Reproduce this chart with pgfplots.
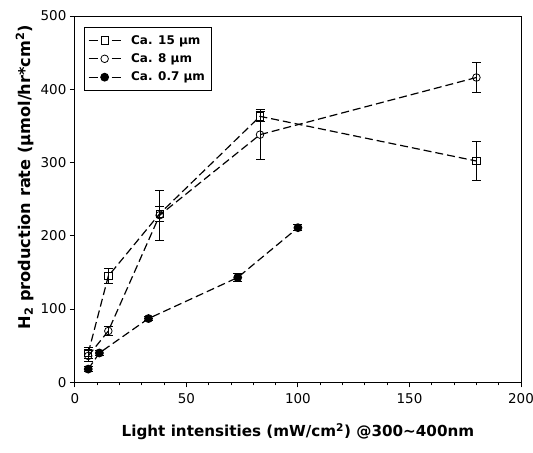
\documentclass[border=0pt]{standalone}
\usepackage{pgfplots}
\pgfplotsset{compat=1.18}
\usepackage{fontspec}
\setmainfont{DejaVu Sans}
\begin{document}
\begin{tikzpicture}
\begin{axis}[
  name=ax,
  scale only axis,
  width=447pt, height=367pt,
  xmin=0, xmax=200, ymin=0, ymax=500,
  xtick={0,50,100,150,200},
  ytick={0,100,200,300,400,500},
  minor x tick num=4,
  axis line style={line width=0.9pt},
  tick style={line width=0.9pt, black},
  tick align=outside,
  major tick length=5pt, minor tick length=3pt,
  xtick pos=bottom, ytick pos=left,
  ticklabel style={font=\fontsize{13.5}{15}\selectfont},
  xticklabel style={yshift=-3pt},
  /pgf/number format/assume math mode=true,
  xlabel={\textbf{Light intensities (mW/cm\textsuperscript{2}) @300\textasciitilde400nm}},
  ylabel={\textbf{H\textsubscript{2} production rate (µmol/hr*cm\textsuperscript{2})}},
  xlabel style={font=\fontsize{15.2}{17}\selectfont, yshift=-13pt},
  ylabel style={font=\fontsize{16.2}{18}\selectfont, at={(ticklabel cs:0.56)}, yshift=0pt},
  legend style={at={(0.02,0.97)}, anchor=north west, draw=black, line width=0.6pt,
    font=\bfseries\fontsize{12}{14}\selectfont, inner xsep=4pt, inner ysep=6pt,
    row sep=4pt, column sep=8pt},
  legend cell align=left,
  legend image code/.code={
    \draw[#1,solid] (0pt,0pt)--(9pt,0pt) (23pt,0pt)--(32pt,0pt);
    \draw[#1,solid] plot coordinates {(16pt,0pt)};
  },
  error bars/error bar style={solid, line width=0.9pt},
  error bars/error mark options={rotate=90, mark size=4.5pt, line width=0.9pt},
]
\coordinate (bl) at (rel axis cs:0,0);
\coordinate (tr) at (rel axis cs:1,1);
\addplot[black, line width=1.2pt, dash pattern=on 8pt off 4pt,
  mark=square, mark options={solid, fill=white, line width=0.8pt}, mark size=3.6pt,
  error bars/.cd, y dir=both, y explicit]
  coordinates {
  (6,40) +- (0,7)
  (15,145) +- (0,10)
  (38,230) +- (0,10)
  (83,363) +- (0,7)
  (180,302) +- (0,27)
  };
\addlegendentry{Ca. 15 µm}
\addplot[black, line width=1.2pt, dash pattern=on 8pt off 4pt,
  mark=o, mark options={solid, fill=white, line width=0.8pt}, mark size=3.8pt,
  error bars/.cd, y dir=both, y explicit]
  coordinates {
  (6,36) +- (0,8)
  (15,70) +- (0,6)
  (38,228) +- (0,34)
  (83,338) +- (0,34)
  (180,416) +- (0,21)
  };
\addlegendentry{Ca. 8 µm}
\addplot[black, line width=1.2pt, dash pattern=on 8pt off 4pt,
  mark=*, mark options={solid, fill=black}, mark size=3.8pt,
  error bars/.cd, y dir=both, y explicit]
  coordinates {
  (6,18) +- (0,3)
  (11,40) +- (0,4)
  (33,87) +- (0,3)
  (73,143) +- (0,5)
  (100,211) +- (0,4)
  };
\addlegendentry{Ca. 0.7 µm}
\end{axis}
\pgfresetboundingbox
\path ([shift={(-75pt,-70pt)}]bl) rectangle ([shift={(12pt,16pt)}]tr);
\end{tikzpicture}
\end{document}
